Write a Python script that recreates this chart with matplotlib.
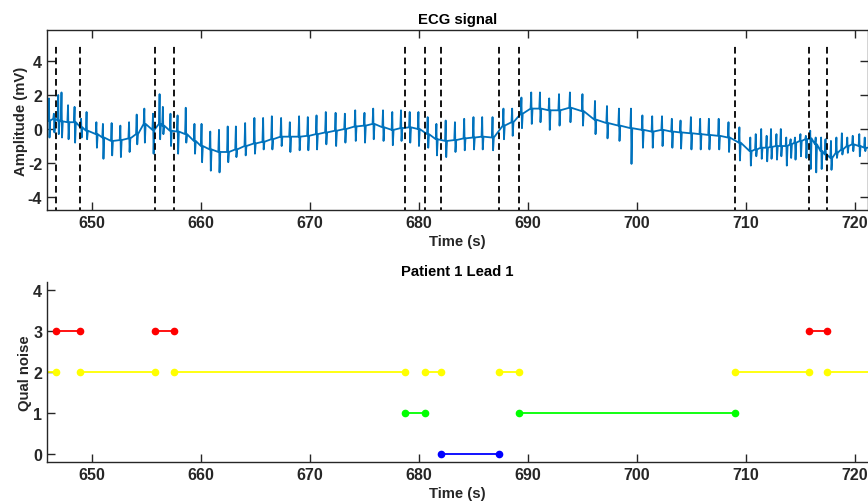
import numpy as np
import matplotlib
matplotlib.use("Agg")
from matplotlib import pyplot as plt

# ECG beats: time (s), local baseline, R peak, S trough (mV)
beat_t = [645.70, 646.05, 646.50, 646.90, 647.20, 647.80, 648.40, 649.00, 649.50,
          650.40, 651.00, 651.80, 652.60, 653.40, 654.10, 654.80, 655.60, 656.20,
          656.50, 657.20, 657.85, 658.60, 659.40, 660.05, 660.85, 661.65, 662.45,
          663.20, 664.05, 664.90, 665.70, 666.50, 667.35, 668.15, 669.00, 669.80,
          670.60, 671.45, 672.35, 673.20, 674.15, 675.00, 675.80, 676.70, 677.55,
          678.35, 679.15, 679.95, 680.80, 681.60, 682.45, 683.30, 684.15, 685.00,
          685.80, 686.75, 687.75, 688.55, 689.40, 690.30, 691.10, 691.95, 692.85,
          693.85, 695.00, 696.15, 697.25, 698.35, 699.45, 700.50, 701.40, 702.30,
          703.20, 704.00, 704.95, 705.80, 706.60, 707.50, 708.40, 709.40, 710.40,
          710.90, 711.40, 711.90, 712.30, 712.80, 713.20, 713.70, 714.10, 714.50,
          715.00, 715.50, 715.90, 716.40, 716.90, 717.30, 717.80, 718.30, 718.80,
          719.30, 719.80, 720.40, 720.90, 721.40]
beat_base = [0.45, 0.50, 0.60, 0.50, 0.45, 0.40, 0.40, 0.10, -0.10,
             -0.30, -0.50, -0.70, -0.65, -0.55, -0.30, 0.30, -0.05, 0.30,
             0.20, -0.10, -0.15, -0.30, -0.70, -1.00, -1.20, -1.35, -1.35,
             -1.20, -1.00, -0.85, -0.75, -0.60, -0.45, -0.45, -0.45, -0.40,
             -0.30, -0.20, -0.10, 0.00, 0.15, 0.20, 0.30, 0.10, -0.05,
             0.05, 0.10, 0.00, -0.30, -0.60, -0.70, -0.65, -0.55, -0.50,
             -0.45, -0.50, 0.20, 0.40, 0.90, 1.20, 1.20, 1.10, 1.10,
             1.25, 1.05, 0.55, 0.35, 0.20, 0.05, -0.05, -0.15, -0.05,
             -0.15, -0.20, -0.25, -0.30, -0.35, -0.40, -0.50, -0.80, -1.30,
             -1.20, -1.10, -1.10, -1.05, -1.00, -1.00, -1.00, -0.90, -0.80,
             -0.70, -0.60, -0.55, -0.90, -1.30, -1.50, -1.70, -1.40, -1.20,
             -1.00, -0.90, -1.00, -1.10, -1.10]
beat_hi = [1.20, 1.80, 0.90, 2.00, 2.15, 1.40, 1.30, 0.60, 1.00,
           0.40, 0.30, 0.35, 0.20, 0.40, 0.85, 1.20, 0.90, 2.05,
           1.30, 0.90, 0.80, 1.25, 0.30, 0.30, -0.15, -0.05, 0.15,
           0.15, 0.35, 0.65, 0.65, 0.75, 0.65, 0.40, 0.75, 0.70,
           0.80, 1.00, 0.95, 0.90, 1.10, 0.95, 1.20, 1.10, 1.00,
           1.10, 1.00, 1.00, 0.70, 0.30, 0.50, 0.40, 0.60, 0.70,
           0.70, 0.70, 1.20, 1.20, 1.85, 2.15, 2.15, 1.80, 2.05,
           2.15, 2.05, 1.65, 1.35, 1.20, 1.20, 0.80, 0.75, 0.75,
           0.60, 0.50, 0.70, 0.60, 0.60, 0.60, 0.40, 0.10, -0.50,
           -0.30, 0.00, -0.40, 0.00, -0.30, 0.00, -0.50, -0.60, -0.50,
           -0.30, -0.40, -0.10, -0.50, -0.50, -0.60, -0.70, -0.50, -0.25,
           -0.50, -0.40, -0.30, -0.50, -0.40]
beat_lo = [-0.30, -0.50, -0.20, -0.30, -0.50, -0.60, -0.80, -0.50, -0.60,
           -1.10, -1.75, -1.55, -1.65, -1.35, -0.90, -0.80, -1.45, -0.60,
           -0.30, -1.00, -1.45, -0.80, -1.45, -1.95, -2.45, -2.55, -1.95,
           -1.65, -1.55, -1.45, -1.20, -1.20, -1.00, -1.35, -1.25, -1.25,
           -1.20, -0.90, -1.00, -0.80, -0.70, -0.80, -0.60, -0.70, -0.95,
           -0.70, -0.80, -1.00, -1.10, -1.55, -1.65, -1.35, -1.25, -1.20,
           -1.20, -1.25, -0.60, -0.40, 0.05, 0.30, 0.40, -0.05, 0.20,
           0.40, 0.20, -0.30, -0.55, -0.70, -2.05, -1.10, -1.10, -1.00,
           -1.10, -1.15, -1.20, -1.20, -1.20, -1.20, -1.35, -1.85, -2.15,
           -1.60, -1.75, -1.90, -1.75, -1.80, -1.60, -2.15, -1.70, -1.80,
           -1.60, -1.70, -2.35, -2.55, -2.35, -1.80, -2.40, -1.70, -1.50,
           -1.40, -1.30, -1.60, -1.30, -1.40]

# noise-quality segments: start, end, level (0 clean .. 3 bad)
seg_start = [645.00, 646.67, 648.90, 655.78, 657.52, 678.74, 680.52, 682.00,
             687.31, 689.15, 708.99, 715.78, 717.43]
seg_end = [646.67, 648.90, 655.78, 657.52, 678.74, 680.52, 682.00, 687.31,
           689.15, 708.99, 715.78, 717.43, 722.50]
seg_level = [2, 3, 2, 3, 2, 1, 2, 0, 2, 1, 2, 3, 2]
level_colors = {0: '#0000FF', 1: '#00FF00', 2: '#FFFF00', 3: '#FF0000'}

# quality changes, marked as dashed lines on the ECG
changes = [646.67, 648.90, 655.78, 657.52, 678.74, 680.52, 682.00, 687.31,
           689.15, 708.99, 715.78, 717.43]

txt = '#262626'
plt.rcParams['font.family'] = ['Liberation Sans', 'DejaVu Sans']
plt.rcParams['font.weight'] = 'bold'
plt.rcParams['axes.labelweight'] = 'bold'
plt.rcParams['axes.titleweight'] = 'bold'
plt.rcParams['axes.unicode_minus'] = False
plt.rcParams['lines.scale_dashes'] = False


def style(ax, box):
    for side in ['left', 'bottom', 'top', 'right']:
        ax.spines[side].set_color(txt)
        ax.spines[side].set_linewidth(1.0)
        if not box and side in ('top', 'right'):
            ax.spines[side].set_visible(False)
    ax.tick_params(direction='in', length=5.5, width=1.0, color=txt,
                   labelcolor=txt, labelsize=11.5, top=box, right=box)
    ax.set_xticks(np.arange(650, 721, 10))


fig = plt.figure(figsize=(8.68, 5.02), dpi=100)

# ECG signal
ax1 = fig.add_axes([47 / 868, 1 - 211 / 502, 1 - 47 / 868, 180 / 502])
sig_t = []
sig_v = []
for t, b, hi, lo in zip(beat_t, beat_base, beat_hi, beat_lo):
    sig_t += [t - 0.06, t, t + 0.05, t + 0.12]
    sig_v += [b, hi, lo, b]
ax1.plot(sig_t, sig_v, color='#0072BD', lw=1.3)
for c in changes:
    ax1.plot([c, c], [-5, 5], color='black', lw=1.3, dashes=(4.8, 2.9))
ax1.set_xlim(645.87, 721.2)
ax1.set_ylim(-4.76, 5.82)
ax1.set_yticks([-4, -2, 0, 2, 4])
style(ax1, True)
ax1.set_title('ECG signal', fontsize=10.7, color='black', pad=5)
ax1.set_xlabel('Time (s)', fontsize=10.7, color=txt, labelpad=3)
ax1.set_ylabel('Amplitude (mV)', fontsize=10.7, color=txt, labelpad=0)

# quality of noise per segment
ax2 = fig.add_axes([47 / 868, 1 - 463.3 / 502, 1 - 47 / 868, 180.6 / 502])
for s, e, lvl in zip(seg_start, seg_end, seg_level):
    ax2.plot([s, e], [lvl, lvl], color=level_colors[lvl], lw=1.3,
             marker='o', markersize=4.5)
ax2.set_xlim(645.87, 721.2)
ax2.set_ylim(-0.2, 4.2)
ax2.set_yticks([0, 1, 2, 3, 4])
style(ax2, False)
ax2.set_title('Patient 1 Lead 1', fontsize=10.7, color='black', pad=5)
ax2.set_xlabel('Time (s)', fontsize=10.7, color=txt, labelpad=3)
ax2.set_ylabel('Qual noise', fontsize=10.7, color=txt, labelpad=1)

fig.savefig('out.png', dpi=100)
